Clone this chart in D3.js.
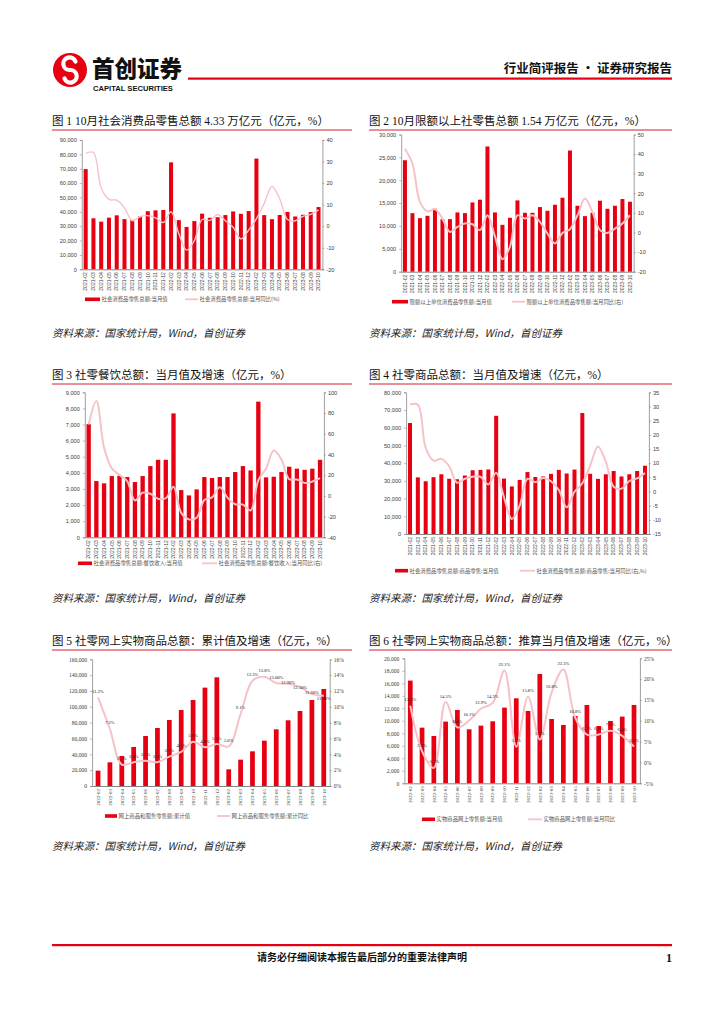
<!DOCTYPE html>
<html><head><meta charset="utf-8">
<script src="https://cdn.jsdelivr.net/npm/d3@7"></script>
<style>body{margin:0;background:#fff} svg{display:block}</style>
</head><body>
<svg id="page" width="724" height="1024"></svg>
<script>
// ---------- DATA ----------
const months31 = ["2021-02","2021-03","2021-04","2021-05","2021-06","2021-07","2021-08","2021-09","2021-10","2021-11","2021-12","2022-02","2022-03","2022-04","2022-05","2022-06","2022-07","2022-08","2022-09","2022-10","2022-11","2022-12","2023-02","2023-03","2023-04","2023-05","2023-06","2023-07","2023-08","2023-09","2023-10"];
const months20 = ["2022-02","2022-03","2022-04","2022-05","2022-06","2022-07","2022-08","2022-09","2022-10","2022-11","2022-12","2023-02","2023-03","2023-04","2023-05","2023-06","2023-07","2023-08","2023-09","2023-10"];

const c1Bars = [69737,35484,33153,35945,37586,34925,34395,36833,40454,41043,41269,74426,34233,29483,33547,38742,35870,36258,37745,40271,38615,40542,77067,37715,34910,37803,39951,36761,37933,39826,43333];
const c1Yoy  = [33.8,34.2,17.7,12.4,12.1,8.5,2.5,4.4,4.9,3.9,1.7,6.7,-3.5,-11.1,-6.7,3.1,2.7,5.4,2.5,-0.5,-5.9,-1.8,3.5,10.6,18.4,12.7,3.1,2.5,4.6,5.5,7.6];
const c1LeftTicks = [0,10000,20000,30000,40000,50000,60000,70000,80000,90000];
const c1RightTicks = [-20,-10,0,10,20,30,40];

const c2Bars = [24370,12800,11710,12220,13760,11490,11490,12960,12810,15150,15740,27380,12960,10250,11790,15590,12880,12880,14130,13320,14640,16180,26500,14420,12150,12880,15520,13760,14420,15890,15300];
const c2Yoy  = [42.7,35.1,15.6,10.8,11.9,7.1,0.3,2.9,4.6,4.2,1.2,8.8,-2.0,-13.6,-7.3,8.8,7.1,8.8,5.4,-0.5,-5.6,-0.2,1.7,8.8,17.3,10.5,1.2,-0.2,2.0,4.6,8.8];
const c2LeftTicks = [0,5000,10000,15000,20000,25000,30000];
const c2RightTicks = [-20,-10,0,10,20,30,40,50];

const c3Bars = [7025,3490,3350,3800,3820,3740,3430,3800,4420,4810,4810,7690,2930,2600,2975,3740,3680,3740,3740,4050,4420,4150,8420,3720,3760,4050,4380,4260,4190,4260,4810];
const c3Yoy  = [68.9,91.6,46.4,26.6,20.2,14.3,-4.5,3.1,2.0,-2.7,-2.3,8.9,-16.4,-22.7,-21.1,-4.0,-1.5,8.4,-1.7,-8.1,-8.4,-14.1,15.1,26.3,43.8,35.1,16.1,15.8,12.4,13.8,17.1];
const c3LeftTicks = [0,1000,2000,3000,4000,5000,6000,7000,8000,9000];
const c3RightTicks = [-40,-20,0,20,40,60,80,100];

const c4Bars = [62650,31960,29780,32100,33720,31170,30920,33000,36000,36200,36430,66740,31280,26870,30540,34970,32160,32490,33960,36190,34170,36380,68300,34000,31130,33720,35550,32490,33730,35560,38520];
const c4Yoy  = [30.7,30.6,15.4,10.9,11.5,8.9,3.1,4.5,5.2,5.2,2.5,6.6,-2.1,-9.7,-5.0,4.5,3.3,4.8,3.6,0.5,-5.6,-0.1,2.9,9.1,15.9,10.5,1.7,1.0,3.7,4.6,6.5];
const c4LeftTicks = [0,10000,20000,30000,40000,50000,60000,70000,80000];
const c4RightTicks = [-15,-10,-5,0,5,10,15,20,25,30,35];

const c5Bars = [19370,29900,37900,49260,63160,73260,83370,96000,108630,124210,137260,21050,33260,43790,57260,71580,82950,94740,108630,122530];
const c5Yoy  = [11.2,7.2,2.7,3.0,3.2,3.0,3.7,4.3,5.6,4.9,5.3,5.0,9.1,13.3,13.8,13.0,12.9,12.5,11.6,11.4];
const c5Labels = ["11.2%","7.2%","2.7%","3.0%","3.1%","3.0%","3.7%","4.3%","5.6%","4.8%","5.3%","5.0%","9.1%","13.3%","13.8%","13.00%","12.90%","12.50%","11.60%","11.40%"];
const c5LeftTicks = [0,20000,40000,60000,80000,100000,120000,140000,160000];
const c5RightTicks = [0,2,4,6,8,10,12,14,16];

const c6Bars = [16430,8900,7570,9870,11730,8640,9230,9920,12110,13600,11570,17490,10290,9330,10770,12530,9170,9970,10670,12530];
const c6Yoy  = [13.6,2.7,-1.3,14.5,8.4,10.1,12.9,14.3,22.1,3.8,15.8,5.5,16.8,22.3,10.8,6.7,6.7,7.6,6.4,3.8];
const c6Labels = ["13.6%","2.7%","-1.3%","14.5%","8.4%","10.1%","12.9%","14.3%","22.1%","3.8%","15.8%","5.5%","16.8%","22.3%","10.8%","6.7%","6.7%","7.6%","6.4%","3.8%"];
const c6LeftTicks = [0,2000,4000,6000,8000,10000,12000,14000,16000,18000,20000];
const c6RightTicks = [-5,0,5,10,15,20,25];

// ---------- DRAW ----------
const svg = d3.select("#page");
const RED = "#E60012", PINK = "#F7C2C7", TXT = "#404040";
const CJK = "'Liberation Serif','Noto Sans CJK SC',serif";
const SANS = "'Liberation Sans','Noto Sans CJK SC',sans-serif";

// header
const hdr = svg.append("g");
hdr.append("circle").attr("cx",70).attr("cy",70).attr("r",17).attr("fill",RED);
hdr.append("path").attr("d","M75.5,61.5 A6.3,6.3 0 1 0 70,70 A6.3,6.3 0 1 1 64.5,78.5")
  .attr("fill","none").attr("stroke","#fff").attr("stroke-width",4.2).attr("stroke-linecap","round");
hdr.append("text").attr("x",92).attr("y",77).attr("font-family","'Noto Sans CJK SC'").attr("font-weight",900)
  .attr("font-size",22.5).attr("fill","#111").text("首创证券");
hdr.append("text").attr("x",93).attr("y",91).attr("font-family","'Liberation Sans'").attr("font-weight",700)
  .attr("font-size",7.6).attr("fill","#111").text("CAPITAL SECURITIES");
hdr.append("rect").attr("x",188).attr("y",77.5).attr("width",484).attr("height",2.2).attr("fill",RED);
hdr.append("text").attr("x",672).attr("y",73).attr("text-anchor","end").attr("font-family","'Noto Sans CJK SC'")
  .attr("font-weight",700).attr("font-size",12.5).attr("fill","#111").text("行业简评报告 · 证券研究报告");

// footer
svg.append("rect").attr("x",52).attr("y",944).attr("width",620).attr("height",2.2).attr("fill",RED);
svg.append("text").attr("x",362).attr("y",961).attr("text-anchor","middle").attr("font-family","'Noto Sans CJK SC'")
  .attr("font-weight",700).attr("font-size",10).attr("fill","#111").text("请务必仔细阅读本报告最后部分的重要法律声明");
svg.append("text").attr("x",672).attr("y",962).attr("text-anchor","end").attr("font-family","'Liberation Serif'")
  .attr("font-weight",700).attr("font-size",12).attr("fill","#111").text("1");

function title(x, y, x2, t) {
  svg.append("text").attr("x",x).attr("y",y).attr("font-family",CJK).attr("font-size",11.5).attr("fill","#111").text(t);
  svg.append("line").attr("x1",x).attr("x2",x2).attr("y1",y+5.5).attr("y2",y+5.5).attr("stroke","#D0202A").attr("stroke-width",1);
}
function source(x, y) {
  svg.append("text").attr("x",x).attr("y",y).attr("font-family","'Noto Sans CJK SC'").attr("font-style","italic")
    .attr("font-size",10.5).attr("fill","#222").text("资料来源：国家统计局，Wind，首创证券");
}

function drawChart(c) {
  const g = svg.append("g");
  const x = d3.scaleBand().domain(c.cats).range([c.x0, c.x1]).paddingInner(c.pad).paddingOuter(c.pad/2);
  const yL = d3.scaleLinear().domain([c.lTicks[0], c.lTicks[c.lTicks.length-1]]).range([c.yBot, c.yTop]);
  const yR = d3.scaleLinear().domain([c.rTicks[0], c.rTicks[c.rTicks.length-1]]).range([c.yBot, c.yTop]);
  const cx = (i) => x(c.cats[i]) + x.bandwidth()/2;

  g.selectAll("rect.bar").data(c.bars).join("rect").attr("class","bar")
    .attr("x",(d,i)=>x(c.cats[i])).attr("width",x.bandwidth())
    .attr("y",d=>yL(d)).attr("height",d=>yL(0)-yL(d)).attr("fill",RED);

  const font = c.font || SANS;
  const la = g.append("g").attr("transform",`translate(${c.x0},0)`)
    .call(d3.axisLeft(yL).tickValues(c.lTicks).tickFormat(d3.format(",")).tickSize(2).tickPadding(3));
  const ra = g.append("g").attr("transform",`translate(${c.x1},0)`)
    .call(d3.axisRight(yR).tickValues(c.rTicks).tickFormat(c.rFmt || (d=>d)).tickSize(2).tickPadding(2));
  const ba = g.append("g").attr("transform",`translate(0,${c.yBot})`)
    .call(d3.axisBottom(x).tickSize(0).tickSizeOuter(0));
  ba.selectAll("text").attr("transform","rotate(-90)").attr("x",-3).attr("y",0).attr("dy","0.35em")
    .attr("text-anchor","end");
  [la, ra, ba].forEach(a => {
    a.selectAll("text").attr("font-family",font).attr("font-size",c.fs || 5.6).attr("fill",TXT);
    a.selectAll("line").attr("stroke","#888").attr("stroke-width",0.6);
    a.select(".domain").attr("stroke","#888").attr("stroke-width",0.8);
  });
  ba.selectAll("text").attr("font-size",c.xfs || 5);
  ba.select(".domain").attr("stroke","#666");

  const line = d3.line().x((d,i)=>cx(i)).y(d=>yR(d)).curve(d3.curveCatmullRom.alpha(0.5));
  g.append("path").attr("d", line(c.line)).attr("fill","none").attr("stroke",PINK)
    .attr("stroke-width",c.lw || 1.6).attr("stroke-linejoin","round");

  if (c.labels) {
    const labs = g.selectAll("text.lab").data(c.labels).join("text").attr("class","lab")
      .attr("x",(d,i)=>cx(i)).attr("y",(d,i)=>yR(c.line[i]) - 4.5)
      .attr("text-anchor","middle").attr("font-family","'Liberation Serif'").attr("font-size",4.6)
      .attr("fill","#222").text(d=>d);
    // simple collision avoidance: push a label down if it collides with its left neighbour
    const nodes = labs.nodes();
    for (let i = 1; i < nodes.length; i++) {
      const a = nodes[i-1].getBBox(), b = nodes[i].getBBox();
      const xo = a.x + a.width > b.x + 0.2 && b.x + b.width > a.x + 0.2;
      const yo = a.y + a.height > b.y && b.y + b.height > a.y;
      if (xo && yo) {
        const shift = (a.y + a.height) - b.y + 0.3;
        nodes[i].setAttribute("y", +nodes[i].getAttribute("y") + shift);
      }
    }
  }

  // legend
  const lg = g.append("g").attr("font-family","'Noto Sans CJK SC'").attr("font-size",5.4).attr("fill","#555");
  lg.append("rect").attr("x",c.leg[0]).attr("y",c.legY-1.8).attr("width",c.leg[1]-c.leg[0]).attr("height",3.6).attr("fill",RED);
  lg.append("text").attr("x",c.leg[1]+1.5).attr("y",c.legY).attr("dy","0.35em").text(c.legText[0]);
  lg.append("line").attr("x1",c.leg[2]).attr("x2",c.leg[3]).attr("y1",c.legY).attr("y2",c.legY)
    .attr("stroke",PINK).attr("stroke-width",1.8);
  lg.append("text").attr("x",c.leg[3]+1.5).attr("y",c.legY).attr("dy","0.35em").text(c.legText[1]);
}

// titles
title(52, 124.5, 352, "图 1 10月社会消费品零售总额 4.33 万亿元（亿元，%）");
title(369, 124.5, 672, "图 2 10月限额以上社零售总额 1.54 万亿元（亿元，%）");
title(52, 378.5, 352, "图 3 社零餐饮总额：当月值及增速（亿元，%）");
title(369, 378.5, 672, "图 4 社零商品总额：当月值及增速（亿元，%）");
title(52, 644.5, 352, "图 5 社零网上实物商品总额：累计值及增速（亿元，%）");
title(369, 644.5, 672, "图 6 社零网上实物商品总额：推算当月值及增速（亿元，%）");

drawChart({cats:months31, bars:c1Bars, line:c1Yoy, lTicks:c1LeftTicks, rTicks:c1RightTicks,
  x0:81.8, x1:322.4, yTop:140, yBot:269.3, pad:0.48, lw:1.4,
  leg:[85,100,185,198], legY:299.3, legText:["社会消费品零售总额:当月值","社会消费品零售总额:当月同比(%)"]});
drawChart({cats:months31, bars:c2Bars, line:c2Yoy, lTicks:c2LeftTicks, rTicks:c2RightTicks,
  x0:401.2, x1:633.7, yTop:134.5, yBot:271.7, pad:0.47, lw:2,
  leg:[392,408,512,525], legY:301.7, legText:["限额以上单位消费品零售额:当月值","限额以上单位消费品零售额:当月同比(右)"]});
drawChart({cats:months31, bars:c3Bars, line:c3Yoy, lTicks:c3LeftTicks, rTicks:c3RightTicks,
  x0:84.8, x1:323.9, yTop:392.3, yBot:537.3, pad:0.44, lw:2,
  leg:[78,92,202,217], legY:563.3, legText:["社会消费品零售总额:餐饮收入:当月值","社会消费品零售总额:餐饮收入:当月同比(右)"]});
drawChart({cats:months31, bars:c4Bars, line:c4Yoy, lTicks:c4LeftTicks, rTicks:c4RightTicks,
  x0:406.1, x1:648.9, yTop:392.3, yBot:534, pad:0.49, lw:2,
  leg:[395,408,520,535], legY:570.7, legText:["社会消费品零售总额:商品零售:当月值","社会消费品零售总额:商品零售:当月同比(右,%)"]});
drawChart({cats:months20, bars:c5Bars, line:c5Yoy, lTicks:c5LeftTicks, rTicks:c5RightTicks, rFmt:d=>d+"%",
  x0:92.1, x1:329.7, yTop:659.3, yBot:786, pad:0.6, lw:2, labels:c5Labels, font:"'Liberation Serif'",
  leg:[105,117,217,230], legY:816, legText:["网上商品和服务零售额:累计值","网上商品和服务零售额:累计同比"]});
drawChart({cats:months20, bars:c6Bars, line:c6Yoy, lTicks:c6LeftTicks, rTicks:c6RightTicks, rFmt:d=>d+"%",
  x0:404.4, x1:639.9, yTop:658.3, yBot:783.3, pad:0.6, lw:2, labels:c6Labels, font:"'Liberation Serif'",
  leg:[422,435,528,542], legY:819.3, legText:["实物商品网上零售额:当月值","实物商品网上零售额:当月同比"]});

source(52, 337); source(369, 337);
source(52, 602); source(369, 602);
source(52, 850); source(369, 850);
</script>
</body></html>
